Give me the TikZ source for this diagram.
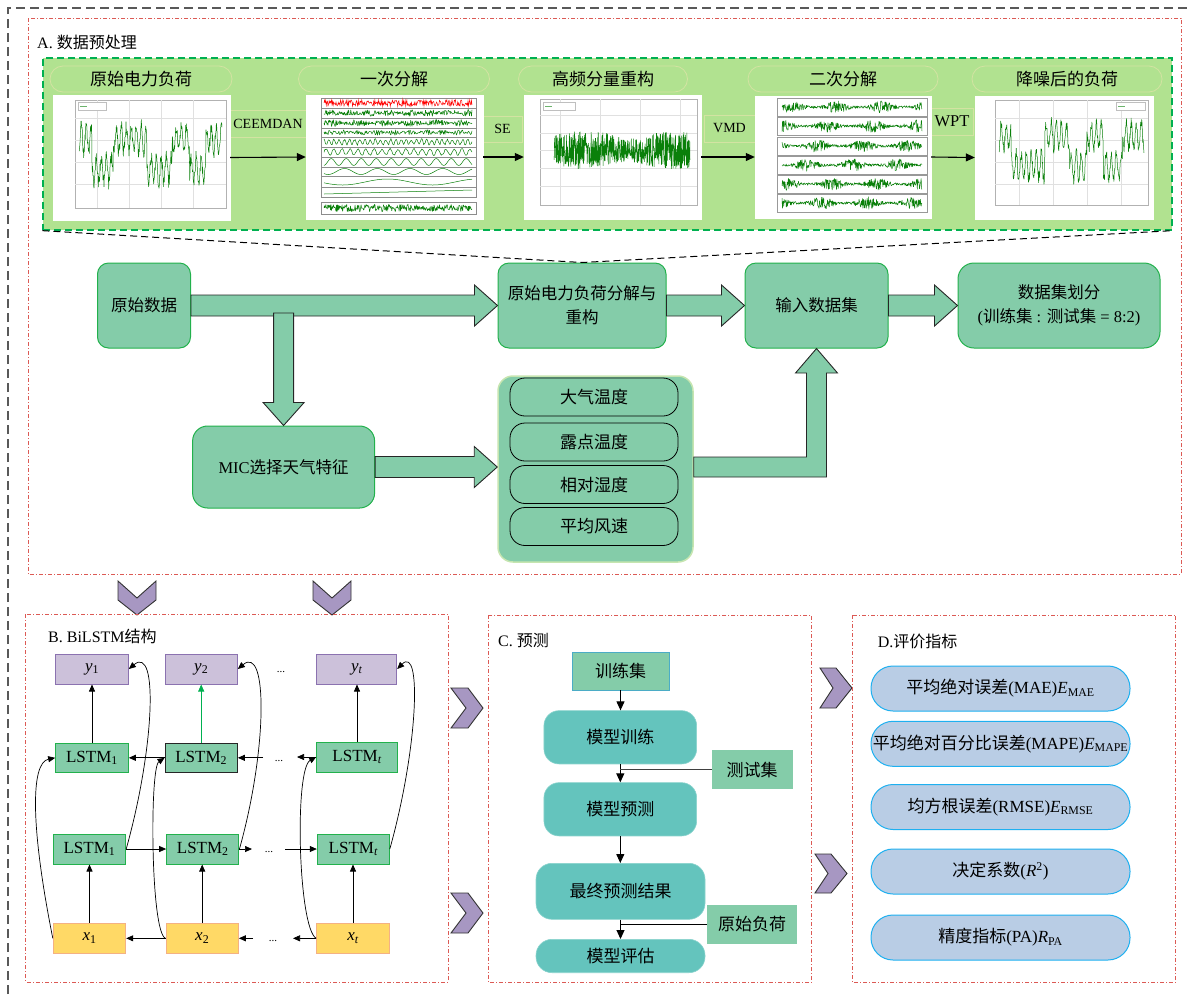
\documentclass[tikz,border=0pt]{standalone}
\usepackage{fontspec}
\setmainfont{Liberation Serif}
\newfontfamily\cjk{Noto Sans CJK SC}
\newcommand\zh[1]{{\cjk #1}}
\usetikzlibrary{arrows.meta,calc}
\definecolor{bggreen}{HTML}{B1E290}
\definecolor{pillbd}{HTML}{D3E3A2}
\definecolor{boxgreen}{HTML}{84CCA9}
\definecolor{boxbd}{HTML}{22B14C}
\definecolor{panelbd}{HTML}{C6E5B0}
\definecolor{cteal}{HTML}{64C4BD}
\definecolor{ctealbd}{HTML}{8AD3CD}
\definecolor{cblue}{HTML}{B9CDE5}
\definecolor{cbluebd}{HTML}{1EB0F0}
\definecolor{clav}{HTML}{CCC1DA}
\definecolor{clavbd}{HTML}{8B72B0}
\definecolor{cyel}{HTML}{FFD966}
\definecolor{cyelbd}{HTML}{F4B183}
\definecolor{cchev}{HTML}{A797C2}
\definecolor{cred}{HTML}{DC5A55}
\definecolor{cdash}{HTML}{00B050}
\definecolor{csig}{HTML}{0A800A}
\definecolor{ccyanbd}{HTML}{4BACC6}
\newcommand\fs[1]{\fontsize{#1}{#1}\selectfont}
\begin{document}
\begin{tikzpicture}[x=1pt,y=-1pt,
  redbox/.style={draw=cred, line width=0.8pt, dash pattern=on 4pt off 2pt on 1pt off 2pt},
  greenbox/.style={draw=cdash, fill=bggreen, line width=1.3pt, dash pattern=on 7pt off 4pt, inner sep=0},
  pill/.style={draw=pillbd, fill=bggreen, line width=0.8pt, rounded corners=13pt, minimum height=26, inner sep=0, font=\fs{17}},
  band/.style={draw=pillbd, fill=bggreen, line width=0.8pt, inner sep=0, font=\fs{14}},
  plotbox/.style={fill=white, draw=white, inner sep=0},
  mainbox/.style={draw=boxbd, fill=boxgreen, line width=1pt, rounded corners=11pt, inner sep=0, align=center, font=\fontsize{16.5}{24}\selectfont},
  featpill/.style={draw=black, fill=boxgreen, line width=0.8pt, rounded corners=15pt, minimum width=168, minimum height=38, inner sep=0, font=\fs{17}},
  blockar/.style={fill=boxgreen, draw=black!85, line width=0.9pt},
  title/.style={anchor=west, inner sep=0, font=\fs{16}},
  ybox/.style={draw=clavbd, fill=clav, line width=1pt, minimum height=30, inner sep=0, font=\fs{17}},
  lbox/.style={draw=boxbd, fill=boxgreen, line width=1pt, minimum height=30, inner sep=0, font=\fs{17}},
  xbox/.style={draw=cyelbd, fill=cyel, line width=1pt, minimum height=30, inner sep=0, font=\fs{17}},
  dots/.style={inner sep=0, font=\fs{11}},
  arr/.style={-{Triangle[length=7pt,width=6pt]}, line width=0.7pt},
  tealbox/.style={draw=ctealbd, fill=cteal, line width=0.6pt, rounded corners=15pt, inner sep=0, font=\fs{17}},
  lgbox/.style={fill=boxgreen, inner sep=0, font=\fs{17}},
  carr/.style={-{Triangle[length=9pt,width=8pt]}, line width=1pt},
  bluepill/.style={draw=cbluebd, fill=cblue, line width=1pt, rounded corners=22pt, minimum width=259, minimum height=45, inner sep=0, font=\fs{17}},
  chev/.style={fill=cchev, draw=black!80, line width=0.9pt},
  sig/.style={draw=csig, line width=0.5pt, line join=bevel},
  grid/.style={draw=black!12, line width=0.4pt},
  topar/.style={-{Triangle[length=9pt,width=8pt]}, line width=1.1pt}
]
\useasboundingbox (0,0) rectangle (1190,994);

% outer frame (only top and left edges are in view)
\draw[black!65, line width=1.2pt, dash pattern=on 9pt off 5pt] (8,994) -- (8,8) -- (1190,8);

% ================= A =================
\draw[redbox] (28,18) rectangle (1181,574);
\node[title] (tA) at (37,42) {A. \zh{数据预处理}};
\node[greenbox, minimum width=1129, minimum height=172] (gbox) at (607.5,144) {};

\node[pill, minimum width=182] (h1) at (141,79) {\zh{原始电力负荷}};
\node[pill, minimum width=191] (h2) at (394,79) {\zh{一次分解}};
\node[pill, minimum width=169] (h3) at (603,79) {\zh{高频分量重构}};
\node[pill, minimum width=190] (h4) at (843,79) {\zh{二次分解}};
\node[pill, minimum width=190] (h5) at (1067,79) {\zh{降噪后的负荷}};

\node[band, minimum width=76, minimum height=27] (b1) at (268,123.5) {CEEMDAN};
\node[band, minimum width=39, minimum height=26] (b2) at (502.5,129) {SE};
\node[band, minimum width=51, minimum height=27] (b3) at (729.5,128.5) {VMD};
\node[band, minimum width=42, minimum height=27, font=\fs{16.5}] (b4) at (952,121.5) {WPT};

\node[plotbox, minimum width=177, minimum height=125] (p1) at (141.5,157.5) {};
\node[plotbox, minimum width=177, minimum height=124] (p2) at (394.5,157) {};
\node[plotbox, minimum width=177, minimum height=124] (p3) at (612.5,157) {};
\node[plotbox, minimum width=176, minimum height=122] (p4) at (843,157) {};
\node[plotbox, minimum width=178, minimum height=123] (p5) at (1064,157.5) {};

% --- plot 1
\draw[black!30, line width=0.5pt] (75,100) rectangle (226,208);
\foreach \g in {97,129,161,193} \draw[grid] (\g,100) -- (\g,208);
\foreach \g in {118,140,162,184} \draw[grid] (75,\g) -- (226,\g);
\pgfmathsetseed{11}
\draw[sig] plot[domain=79:222, samples=430] (\x,{155-16*ifthenelse(sin((\x-75)*8+60*sin((\x-75)*3))>0,1,-0.9)-13*sin((\x-75)*72)-7*rand});
\draw[black!25, fill=white, line width=0.3pt] (78,102) rectangle (106,110);
\draw[csig!60, line width=0.6pt] (80,106) -- (87,106);
% --- plot 2
\draw[black!45, line width=0.5pt] (321,98) rectangle (476,197);
\foreach \g in {108,118,128,137,147,157,167,176,187} \draw[black!45, line width=0.5pt] (321,\g) -- (476,\g);
\draw[black!45, line width=0.5pt] (321,202) rectangle (476,214);
\pgfmathsetseed{5}
\draw[draw=red, line width=0.5pt] plot[domain=324:472, samples=260] (\x,{103+3.2*rand});
\draw[sig] plot[domain=324:472, samples=300] (\x,{113+3.5*rand*(0.4+0.6*abs(sin((\x-320)*9)))});
\draw[sig] plot[domain=324:472, samples=300] (\x,{123+3.5*rand*(0.4+0.6*abs(sin((\x-320)*7)))});
\draw[sig] plot[domain=324:472, samples=220] (\x,{132.5+3*rand*(0.3+0.7*abs(sin((\x-320)*11)))});
\draw[sig] plot[domain=324:472, samples=200] (\x,{142+2.5*sin((\x-320)*70)+1.2*rand});
\draw[sig] plot[domain=324:472, samples=160] (\x,{152+3*sin((\x-320)*45)+0.8*rand});
\draw[sig] plot[domain=324:472, samples=100] (\x,{162+3.5*sin((\x-320)*24)});
\draw[sig] plot[domain=324:472, samples=100] (\x,{171.5+3*sin((\x-320)*11)});
\draw[sig] plot[domain=324:472, samples=80] (\x,{182+3*sin((\x-320)*4)});
\draw[sig] plot[domain=324:472, samples=40] (\x,{194-4*(\x-324)/148});
\draw[sig] plot[domain=324:472, samples=320] (\x,{208+3.8*rand});
% --- plot 3
\draw[black!30, line width=0.5pt] (540,99) rectangle (697,205);
\foreach \g in {560,600,640,680} \draw[grid] (\g,99) -- (\g,205);
\foreach \g in {115,133,150,168,186} \draw[grid] (540,\g) -- (697,\g);
\pgfmathsetseed{3}
\draw[sig] plot[domain=554:690, samples=650] (\x,{150+(11+8*abs(sin((\x-540)*2)))*rand});
\draw[black!25, fill=white, line width=0.3pt] (543,102) rectangle (575,110);
\draw[csig!60, line width=0.6pt] (545,106) -- (552,106);
% --- plot 4
\foreach \c in {107,126,146,165,184,203}
  \draw[black!40, line width=0.5pt] (777,\c-9) rectangle (927,\c+9);
\pgfmathsetseed{9}
\foreach \c/\p in {107/0,126/40,146/80,165/120,184/20,203/60}
  \draw[sig] plot[domain=782:922, samples=330] (\x,{\c+6.5*rand*(0.2+0.8*abs(sin((\x-770)*4+\p))^3)});
% --- plot 5
\draw[black!30, line width=0.5pt] (995,100) rectangle (1148,205);
\foreach \g in {1019,1053,1087,1121} \draw[grid] (\g,100) -- (\g,205);
\foreach \g in {118,140,162,184} \draw[grid] (995,\g) -- (1148,\g);
\pgfmathsetseed{17}
\draw[sig] plot[domain=999:1144, samples=430] (\x,{152-16*ifthenelse(sin((\x-995)*8+60*sin((\x-995)*3+70))>0,1,-0.9)-13*sin((\x-995)*72)-6*rand});
\draw[black!25, fill=white, line width=0.3pt] (1116,102) rectangle (1145,110);
\draw[csig!60, line width=0.6pt] (1118,106) -- (1125,106);

\draw[topar] (p1.east) -- (p2.west);
\draw[topar] (p2.east) -- (p3.west);
\draw[topar] (p3.east) -- (p4.west);
\draw[topar] (p4.east) -- (p5.west);

% main flow
\node[mainbox, minimum width=93, minimum height=85] (raw) at (144,305.5) {\zh{原始数据}};
\node[mainbox, minimum width=168, minimum height=85] (dec) at (582,305.5) {\zh{原始电力负荷分解与}\\\zh{重构}};
\node[mainbox, minimum width=143, minimum height=85] (inp) at (816.5,305.5) {\zh{输入数据集}};
\node[mainbox, minimum width=202, minimum height=85, rounded corners=16pt] (split) at (1059,305.5) {\zh{数据集划分}\\(\zh{训练集} : \zh{测试集} = 8:2)};
\node[mainbox, minimum width=182, minimum height=82, rounded corners=15pt] (mic) at (283.6,467) {MIC\zh{选择天气特征}};
\node[draw=panelbd, fill=boxgreen, line width=1.5pt, rounded corners=15pt, minimum width=195, minimum height=186, inner sep=0] (panel) at (595.5,469) {};
\node[featpill] (f1) at (594,397) {\zh{大气温度}};
\node[featpill] (f2) at (594,442) {\zh{露点温度}};
\node[featpill] (f3) at (594,484.5) {\zh{相对湿度}};
\node[featpill] (f4) at (594,526.5) {\zh{平均风速}};

\draw[black, line width=1pt, dash pattern=on 7pt off 4pt] (gbox.south west) -- (dec.north) -- (gbox.south east);

\newcommand\harrow[2]{\draw[blockar] let \p1=(#1), \p2=(#2) in
  (\x1,{\y1+10.5pt}) -- ({\x2-23pt},{\y1+10.5pt}) -- ({\x2-23pt},{\y1+20.5pt}) -- (\x2,\y1) --
  ({\x2-23pt},{\y1-20.5pt}) -- ({\x2-23pt},{\y1-10.5pt}) -- (\x1,{\y1-10.5pt}) -- cycle;}
\harrow{raw.east}{dec.west}
\harrow{dec.east}{inp.west}
\harrow{inp.east}{split.west}
\harrow{mic.east}{panel.west}
\coordinate (dsrc) at (283.6,313);
\draw[blockar] let \p1=(dsrc), \p2=(mic.north) in
  ({\x1-10pt},\y1) -- ({\x1-10pt},{\y2+23pt}) -- ({\x1-20.5pt},{\y2+23pt}) -- (\x1,\y2) --
  ({\x1+20.5pt},{\y2+23pt}) -- ({\x1+10pt},{\y2+23pt}) -- ({\x1+10pt},\y1) -- cycle;
\draw[blockar] let \p1=(panel.east), \p2=(inp.south) in
  (\x1,{\y1+12pt}) -- ({\x2-10pt},{\y1+12pt}) -- ({\x2-10pt},{\y2-24.5pt}) -- ({\x2-21pt},{\y2-24.5pt}) --
  (\x2,\y2) -- ({\x2+21pt},{\y2-24.5pt}) -- ({\x2+10pt},{\y2-24.5pt}) -- ({\x2+10pt},{\y1-8pt}) --
  (\x1,{\y1-8pt}) -- cycle;

% chevrons
\draw[chev] (118,581) -- (137,598) -- (156,581) -- (156,600) -- (137,615) -- (118,600) -- cycle;
\draw[chev] (313,581) -- (332,598) -- (351,581) -- (351,600) -- (332,615) -- (313,600) -- cycle;
\draw[chev] (451,688) -- (468,688) -- (483,708) -- (468,728) -- (451,728) -- (466,708) -- cycle;
\draw[chev] (451,893) -- (468,893) -- (483,913) -- (468,933) -- (451,933) -- (466,913) -- cycle;
\draw[chev] (820,668) -- (836,668) -- (852,688) -- (836,708) -- (820,708) -- (833,688) -- cycle;
\draw[chev] (815,854) -- (831,854) -- (847,873.5) -- (831,893) -- (815,893) -- (828,873.5) -- cycle;

% ================= B =================
\draw[redbox] (25.7,614.3) rectangle (448,982);
\node[title] (tB) at (48,636) {B. BiLSTM\zh{结构}};
\node[ybox, minimum width=72.6] (y1) at (92,669) {{\itshape y}\textsubscript{1}};
\node[ybox, minimum width=72.3] (y2) at (201.2,669) {{\itshape y}\textsubscript{2}};
\node[ybox, minimum width=80] (yt) at (356.7,669) {{\itshape y}\textsubscript{\itshape t}};
\node[lbox, minimum width=72.6, minimum height=29] (L1t) at (92,757.8) {LSTM\textsubscript{1}};
\node[lbox, draw=black!85, minimum width=72.3, minimum height=29] (L2t) at (201.2,757.8) {LSTM\textsubscript{2}};
\node[lbox, minimum width=80.6] (Ltt) at (357,757) {LSTM\textsubscript{\itshape t}};
\node[lbox, minimum width=72.4] (L1b) at (89.5,849) {LSTM\textsubscript{1}};
\node[lbox, minimum width=72.3] (L2b) at (202.8,849) {LSTM\textsubscript{2}};
\node[lbox, minimum width=72] (Ltb) at (353.3,849) {LSTM\textsubscript{\itshape t}};
\node[xbox, minimum width=72.4] (x1) at (89.5,938.3) {{\itshape x}\textsubscript{1}};
\node[xbox, minimum width=72.3] (x2) at (202.2,938.3) {{\itshape x}\textsubscript{2}};
\node[xbox, minimum width=72.6] (xt) at (353,938.3) {{\itshape x}\textsubscript{\itshape t}};
\node[dots] (d1) at (281,672) {...};
\node[dots] (d2) at (279,761) {...};
\node[dots] (d3) at (269,852) {...};
\node[dots] (d4) at (273,941) {...};

\draw[arr] (L1t.north) -- (y1.south);
\draw[arr, draw=cdash, -{Triangle[length=7pt,width=6pt,fill=cdash]}] (L2t.north) -- (y2.south);
\draw[arr] (Ltt.north) -- (Ltt.north |- yt.south);
\draw[arr] (x1.north) -- (x1.north |- L1b.south);
\draw[arr] (x2.north) -- (x2.north |- L2b.south);
\draw[arr] (xt.north) -- (xt.north |- Ltb.south);
\draw[arr] (L1b.east) -- (L2b.west);
\coordinate (c1) at (252,849);
\coordinate (c2) at (285,849);
\draw[arr] (L2b.east) -- (c1);
\draw[arr] (c2) -- (Ltb.west);
\draw[arr] (L2t.west) -- (L1t.east);
\coordinate (c3) at (263,757.8);
\coordinate (c4) at (297,757);
\draw[arr] (c3) -- (L2t.east);
\draw[arr] (Ltt.west) -- (c4);
\draw[arr] (x2.west) -- (x1.east);
\coordinate (c5) at (253,938.3);
\coordinate (c6) at (293,938.3);
\draw[arr] (c5) -- (x2.east);
\draw[arr] (xt.west) -- (c6);
\draw[arr] (x1.west) .. controls +(-22,-110) and +(-25,5) .. (L1t.west);
\draw[arr] (x2.west) .. controls +(-15,-5) and +(-15,10) .. (L2t.west);
\draw[arr] (xt.west) .. controls +(-18,-10) and +(-22,12) .. (Ltt.west);
\draw[arr] (L1b.east) .. controls +(28,-100) and +(30,-25) .. (y1.east);
\draw[arr] (L2b.east) .. controls +(28,-100) and +(30,-25) .. (y2.east);
\draw[arr] (Ltb.east) .. controls +(28,-100) and +(25,-25) .. (yt.east);

% ================= C =================
\draw[redbox] (488,615) rectangle (811.7,982);
\node[title] (tC) at (498,640) {C. \zh{预测}};
\node[lgbox, draw=ccyanbd, line width=0.8pt, minimum width=97, minimum height=38] (train) at (620.5,671) {\zh{训练集}};
\node[tealbox, minimum width=152.7, minimum height=53.3] (mtrain) at (620.3,737.3) {\zh{模型训练}};
\node[lgbox, minimum width=81, minimum height=39.3] (test) at (752.2,769.7) {\zh{测试集}};
\node[tealbox, minimum width=152.7, minimum height=53.3] (mpred) at (620.3,809.3) {\zh{模型预测}};
\node[tealbox, minimum width=169, minimum height=56, rounded corners=16pt] (final) at (620.5,891.3) {\zh{最终预测结果}};
\node[lgbox, minimum width=89.4, minimum height=39] (orig) at (752,924.5) {\zh{原始负荷}};
\node[tealbox, minimum width=169, minimum height=33.4, rounded corners=16pt] (meval) at (620.5,956) {\zh{模型评估}};
\draw[carr] (train.south) -- (train.south |- mtrain.north);
\draw[carr] (mtrain.south) -- (mpred.north);
\draw[line width=1pt, black!75] (test.west) -- (mtrain.south |- test.west);
\draw[carr] (mpred.south) -- (mpred.south |- final.north);
\draw[carr] (final.south) -- (meval.north);
\draw[line width=1pt] (orig.west) -- (final.south |- orig.west);

% ================= D =================
\draw[redbox] (852.3,615) rectangle (1175.7,982.3);
\node[title] (tD) at (877.7,641.7) {D.\zh{评价指标}};
\node[bluepill] (e1) at (1000.5,688.5) {\zh{平均绝对误差}(MAE){\itshape E}\textsubscript{MAE}};
\node[bluepill] (e2) at (1000.5,743.8) {\zh{平均绝对百分比误差}(MAPE){\itshape E}\textsubscript{MAPE}};
\node[bluepill] (e3) at (1000.5,807) {\zh{均方根误差}(RMSE){\itshape E}\textsubscript{RMSE}};
\node[bluepill] (e4) at (1000.5,871.5) {\zh{决定系数}({\itshape R}\textsuperscript{2})};
\node[bluepill] (e5) at (1000.5,937.5) {\zh{精度指标}(PA){\itshape R}\textsubscript{PA}};
\end{tikzpicture}
\end{document}
